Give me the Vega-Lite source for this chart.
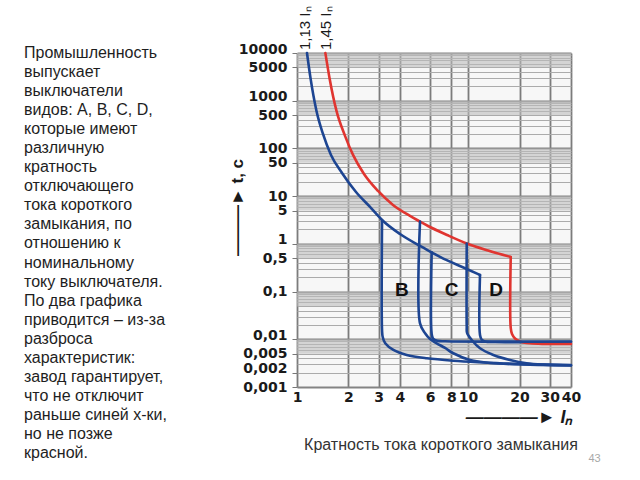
{
  "$schema": "https://vega.github.io/schema/vega-lite/v6.json",
  "background": "white",
  "padding": {"left": 24, "top": 6, "right": 0, "bottom": 0},
  "autosize": {"type": "pad"},
  "spacing": 93,
  "bounds": "flush",
  "config": {"view": {"stroke": null}},
  "title": {"text": "43", "orient": "bottom", "anchor": "end", "fontSize": 11, "fontWeight": "normal", "font": "Liberation Sans", "color": "#a8a8a8", "dx": 20, "offset": -8},
  "datasets": {
    "para": [
      {"line": 1, "text": "Промышленность"},
      {"line": 2, "text": "выпускает"},
      {"line": 3, "text": "выключатели"},
      {"line": 4, "text": "видов: A, B, C, D,"},
      {"line": 5, "text": "которые имеют"},
      {"line": 6, "text": "различную"},
      {"line": 7, "text": "кратность"},
      {"line": 8, "text": "отключающего"},
      {"line": 9, "text": "тока короткого"},
      {"line": 10, "text": "замыкания, по"},
      {"line": 11, "text": "отношению к"},
      {"line": 12, "text": "номинальному"},
      {"line": 13, "text": "току выключателя."},
      {"line": 14, "text": "По два графика"},
      {"line": 15, "text": "приводится – из-за"},
      {"line": 16, "text": "разброса"},
      {"line": 17, "text": "характеристик:"},
      {"line": 18, "text": "завод гарантирует,"},
      {"line": 19, "text": "что не отключит"},
      {"line": 20, "text": "раньше синей х-ки,"},
      {"line": 21, "text": "но не позже"},
      {"line": 22, "text": "красной."}
    ],
    "bands": [
      {"t": 10000, "t2": 5000},
      {"t": 1000, "t2": 500},
      {"t": 100, "t2": 50},
      {"t": 10, "t2": 5},
      {"t": 1, "t2": 0.5},
      {"t": 0.1, "t2": 0.05},
      {"t": 0.01, "t2": 0.005}
    ],
    "curves": [
      {"part": "thermal", "s": "lo", "bound": "lower", "k": 0, "x": 1.144, "t": 10000},
      {"part": "thermal", "s": "lo", "bound": "lower", "k": 1, "x": 1.199, "t": 3006},
      {"part": "thermal", "s": "lo", "bound": "lower", "k": 2, "x": 1.300, "t": 611},
      {"part": "thermal", "s": "lo", "bound": "lower", "k": 3, "x": 1.419, "t": 201},
      {"part": "thermal", "s": "lo", "bound": "lower", "k": 4, "x": 1.580, "t": 73.1},
      {"part": "thermal", "s": "lo", "bound": "lower", "k": 5, "x": 1.833, "t": 30.6},
      {"part": "thermal", "s": "lo", "bound": "lower", "k": 6, "x": 2.213, "t": 12.2},
      {"part": "thermal", "s": "lo", "bound": "lower", "k": 7, "x": 2.673, "t": 5.94},
      {"part": "thermal", "s": "lo", "bound": "lower", "k": 8, "x": 3.142, "t": 3.17},
      {"part": "thermal", "s": "lo", "bound": "lower", "k": 9, "x": 4.003, "t": 1.61},
      {"part": "thermal", "s": "lo", "bound": "lower", "k": 10, "x": 5.24, "t": 0.904},
      {"part": "thermal", "s": "lo", "bound": "lower", "k": 11, "x": 6.13, "t": 0.663},
      {"part": "thermal", "s": "lo", "bound": "lower", "k": 12, "x": 6.86, "t": 0.531},
      {"part": "thermal", "s": "lo", "bound": "lower", "k": 13, "x": 9.826, "t": 0.298},
      {"part": "thermal", "s": "lo", "bound": "lower", "k": 14, "x": 11.75, "t": 0.223},

      {"part": "thermal", "s": "hi", "bound": "upper", "k": 0, "x": 1.465, "t": 10000},
      {"part": "thermal", "s": "hi", "bound": "upper", "k": 1, "x": 1.549, "t": 3006},
      {"part": "thermal", "s": "hi", "bound": "upper", "k": 2, "x": 1.702, "t": 611},
      {"part": "thermal", "s": "hi", "bound": "upper", "k": 3, "x": 1.909, "t": 183},
      {"part": "thermal", "s": "hi", "bound": "upper", "k": 4, "x": 2.126, "t": 73.1},
      {"part": "thermal", "s": "hi", "bound": "upper", "k": 5, "x": 2.465, "t": 29.2},
      {"part": "thermal", "s": "hi", "bound": "upper", "k": 6, "x": 2.977, "t": 12.85},
      {"part": "thermal", "s": "hi", "bound": "upper", "k": 7, "x": 3.642, "t": 6.54},
      {"part": "thermal", "s": "hi", "bound": "upper", "k": 8, "x": 4.579, "t": 3.85},
      {"part": "thermal", "s": "hi", "bound": "upper", "k": 9, "x": 5.24, "t": 2.93},
      {"part": "thermal", "s": "hi", "bound": "upper", "k": 10, "x": 5.836, "t": 2.37},
      {"part": "thermal", "s": "hi", "bound": "upper", "k": 11, "x": 7.539, "t": 1.537},
      {"part": "thermal", "s": "hi", "bound": "upper", "k": 12, "x": 9.826, "t": 1.02},
      {"part": "thermal", "s": "hi", "bound": "upper", "k": 13, "x": 13.09, "t": 0.727},
      {"part": "thermal", "s": "hi", "bound": "upper", "k": 14, "x": 17.77, "t": 0.531},

      {"part": "trip", "s": "Dr", "bound": "lower", "k": 0, "x": 11.75, "t": 0.223},
      {"part": "trip", "s": "Dr", "bound": "lower", "k": 1, "x": 11.75, "t": 0.0123},
      {"part": "trip", "s": "Dr", "bound": "lower", "k": 2, "x": 12.0, "t": 0.0099},
      {"part": "trip", "s": "Dr", "bound": "lower", "k": 3, "x": 12.57, "t": 0.0090},
      {"part": "trip", "s": "Dr", "bound": "lower", "k": 4, "x": 14.4, "t": 0.00877},
      {"part": "trip", "s": "Dr", "bound": "lower", "k": 5, "x": 40, "t": 0.00877},

      {"part": "trip", "s": "Rr", "bound": "upper", "k": 0, "x": 17.77, "t": 0.531},
      {"part": "trip", "s": "Rr", "bound": "upper", "k": 1, "x": 17.77, "t": 0.0173},
      {"part": "trip", "s": "Rr", "bound": "upper", "k": 2, "x": 18.08, "t": 0.0129},
      {"part": "trip", "s": "Rr", "bound": "upper", "k": 3, "x": 18.83, "t": 0.0104},
      {"part": "trip", "s": "Rr", "bound": "upper", "k": 4, "x": 20.1, "t": 0.0090},
      {"part": "trip", "s": "Rr", "bound": "upper", "k": 5, "x": 23.05, "t": 0.00824},
      {"part": "trip", "s": "Rr", "bound": "upper", "k": 6, "x": 28.2, "t": 0.0080},
      {"part": "trip", "s": "Rr", "bound": "upper", "k": 7, "x": 40, "t": 0.0080},

      {"part": "trip", "s": "B", "bound": "lower", "k": 0, "x": 3.142, "t": 3.17},
      {"part": "trip", "s": "B", "bound": "lower", "k": 1, "x": 3.142, "t": 0.0157},
      {"part": "trip", "s": "B", "bound": "lower", "k": 2, "x": 3.17, "t": 0.0112},
      {"part": "trip", "s": "B", "bound": "lower", "k": 3, "x": 3.28, "t": 0.00824},
      {"part": "trip", "s": "B", "bound": "lower", "k": 4, "x": 3.66, "t": 0.00597},
      {"part": "trip", "s": "B", "bound": "lower", "k": 5, "x": 4.38, "t": 0.00469},
      {"part": "trip", "s": "B", "bound": "lower", "k": 6, "x": 5.74, "t": 0.0040},
      {"part": "trip", "s": "B", "bound": "lower", "k": 7, "x": 8.2, "t": 0.00356},
      {"part": "trip", "s": "B", "bound": "lower", "k": 8, "x": 11.75, "t": 0.0033},
      {"part": "trip", "s": "B", "bound": "lower", "k": 9, "x": 20.1, "t": 0.00303},
      {"part": "trip", "s": "B", "bound": "lower", "k": 10, "x": 40, "t": 0.00289},

      {"part": "trip", "s": "C1", "bound": "lower", "k": 0, "x": 5.24, "t": 2.93},
      {"part": "trip", "s": "C1", "bound": "lower", "k": 1, "x": 5.24, "t": 0.0216},
      {"part": "trip", "s": "C1", "bound": "lower", "k": 2, "x": 5.61, "t": 0.0134},
      {"part": "trip", "s": "C1", "bound": "lower", "k": 3, "x": 6.0, "t": 0.0101},
      {"part": "trip", "s": "C1", "bound": "lower", "k": 4, "x": 6.56, "t": 0.00824},
      {"part": "trip", "s": "C1", "bound": "lower", "k": 5, "x": 7.34, "t": 0.00658},
      {"part": "trip", "s": "C1", "bound": "lower", "k": 6, "x": 8.2, "t": 0.00509},
      {"part": "trip", "s": "C1", "bound": "lower", "k": 7, "x": 10.27, "t": 0.00368},
      {"part": "trip", "s": "C1", "bound": "lower", "k": 8, "x": 13.45, "t": 0.00318},
      {"part": "trip", "s": "C1", "bound": "lower", "k": 9, "x": 23.05, "t": 0.00294},
      {"part": "trip", "s": "C1", "bound": "lower", "k": 10, "x": 40, "t": 0.00285},

      {"part": "trip", "s": "C2", "bound": "lower", "k": 0, "x": 6.13, "t": 0.663},
      {"part": "trip", "s": "C2", "bound": "lower", "k": 1, "x": 6.13, "t": 0.0129},
      {"part": "trip", "s": "C2", "bound": "lower", "k": 2, "x": 6.24, "t": 0.0104},
      {"part": "trip", "s": "C2", "bound": "lower", "k": 3, "x": 6.59, "t": 0.00935},
      {"part": "trip", "s": "C2", "bound": "lower", "k": 4, "x": 7.34, "t": 0.00908},
      {"part": "trip", "s": "C2", "bound": "lower", "k": 5, "x": 40, "t": 0.0090},

      {"part": "trip", "s": "D1", "bound": "lower", "k": 0, "x": 9.826, "t": 1.02},
      {"part": "trip", "s": "D1", "bound": "lower", "k": 1, "x": 9.826, "t": 0.0184},
      {"part": "trip", "s": "D1", "bound": "lower", "k": 2, "x": 9.87, "t": 0.0136},
      {"part": "trip", "s": "D1", "bound": "lower", "k": 3, "x": 10.51, "t": 0.00967},
      {"part": "trip", "s": "D1", "bound": "lower", "k": 4, "x": 11.75, "t": 0.00648},
      {"part": "trip", "s": "D1", "bound": "lower", "k": 5, "x": 14.06, "t": 0.00469},
      {"part": "trip", "s": "D1", "bound": "lower", "k": 6, "x": 17.6, "t": 0.00368},
      {"part": "trip", "s": "D1", "bound": "lower", "k": 7, "x": 22.0, "t": 0.00314},
      {"part": "trip", "s": "D1", "bound": "lower", "k": 8, "x": 27.6, "t": 0.00294},
      {"part": "trip", "s": "D1", "bound": "lower", "k": 9, "x": 40, "t": 0.00283}
    ],
    "letters": [
      {"x": 4.1, "t": 0.11, "lab": "B"},
      {"x": 8.03, "t": 0.11, "lab": "C"},
      {"x": 14.6, "t": 0.11, "lab": "D"}
    ],
    "toplabels": [
      {"x": 1.12, "t": 10000, "lab": "1,13 Iₙ"},
      {"x": 1.48, "t": 10000, "lab": "1,45 Iₙ"}
    ]
  },
  "hconcat": [
    {
      "width": 180,
      "height": 400,
      "data": {"name": "para"},
      "mark": {"type": "text", "align": "left", "baseline": "middle", "fontSize": 16, "font": "Liberation Sans", "color": "#1e1e1e"},
      "encoding": {
        "x": {"datum": 0, "type": "quantitative", "scale": {"domain": [0, 1]}, "axis": null},
        "y": {"field": "line", "type": "quantitative", "scale": {"domain": [1, 22], "nice": false, "zero": false, "reverse": true}, "axis": null},
        "text": {"field": "text"}
      }
    },
    {
      "width": 274,
      "height": 334,
      "view": {"fill": "#f7f7f7", "stroke": null},
      "title": {"text": "Кратность тока короткого замыкания", "orient": "bottom", "anchor": "middle", "frame": "group", "fontSize": 16, "fontWeight": "normal", "font": "Liberation Sans", "color": "#333333", "dx": 7, "offset": 11},
      "layer": [
        {
          "data": {"name": "bands"},
          "mark": {"type": "rect", "fill": "#bdbdbd", "opacity": 0.6},
          "encoding": {
            "y": {"field": "t", "type": "quantitative"},
            "y2": {"field": "t2"}
          }
        },
        {
          "data": {"name": "curves"},
          "transform": [{"filter": "datum.part == 'thermal'"}],
          "mark": {"type": "line", "interpolate": "monotone", "strokeWidth": 2.6, "strokeCap": "round"},
          "encoding": {
            "x": {
              "field": "x", "type": "quantitative",
              "scale": {"type": "log", "domain": [1, 40], "nice": false},
              "axis": {
                "values": [1, 2, 3, 4, 6, 8, 10, 20, 30, 40],
                "format": "d",
                "labelFont": "DejaVu Sans", "labelFontWeight": "bold", "labelFontSize": 14, "labelColor": "#1a1a1a",
                "labelPadding": 3, "labelOverlap": false, "labelFlush": false,
                "ticks": false, "domain": false,
                "grid": true, "gridColor": "#7c7c7c", "gridWidth": 1.8,
                "title": "————►  Iₙ",
                "titleFont": "Liberation Sans", "titleFontStyle": "italic", "titleFontWeight": "bold", "titleFontSize": 18, "titleColor": "#1a1a1a",
                "titleX": 275, "titleY": 30, "titleAlign": "right", "titleBaseline": "middle", "titleAngle": 0
              }
            },
            "y": {
              "field": "t", "type": "quantitative",
              "scale": {"type": "log", "domain": [0.001, 10000], "nice": false},
              "axis": {
                "values": [0.001, 0.002, 0.003, 0.004, 0.005, 0.006, 0.007, 0.008, 0.009,
                           0.01, 0.02, 0.03, 0.04, 0.05, 0.06, 0.07, 0.08, 0.09,
                           0.1, 0.2, 0.3, 0.4, 0.5, 0.6, 0.7, 0.8, 0.9,
                           1, 2, 3, 4, 5, 6, 7, 8, 9,
                           10, 20, 30, 40, 50, 60, 70, 80, 90,
                           100, 200, 300, 400, 500, 600, 700, 800, 900,
                           1000, 2000, 3000, 4000, 5000, 6000, 7000, 8000, 9000, 10000],
                "labelExpr": "indexof([0.001,0.002,0.005,0.01,0.1,0.5,1,5,10,50,100,500,1000,5000,10000], datum.value) >= 0 ? replace(format(datum.value, '~g'), '.', ',') : ''",
                "labelFont": "DejaVu Sans", "labelFontWeight": "bold", "labelFontSize": 14, "labelColor": "#1a1a1a",
                "labelPadding": 5, "labelOverlap": false, "labelFlush": false,
                "labelOffset": {"condition": {"test": "datum.value == 10000 || datum.value == 1000 || datum.value == 0.01 || datum.value == 0.002 || datum.value == 1", "value": -4}, "value": 0},
                "ticks": true, "tickSize": 5,
                "tickColor": {"condition": {"test": "indexof([0.001,0.002,0.005,0.01,0.1,0.5,1,5,10,50,100,500,1000,5000,10000], datum.value) >= 0", "value": "#777777"}, "value": "transparent"},
                "domain": false,
                "grid": true,
                "gridColor": {"condition": {"test": "indexof([0.001,0.01,0.1,1,10,100,1000,10000], datum.value) >= 0", "value": "#848484"}, "value": "#ababab"},
                "gridWidth": {"condition": {"test": "indexof([0.001,0.01,0.1,1,10,100,1000,10000], datum.value) >= 0", "value": 1.8}, "value": 1},
                "title": "———►  t, c",
                "titleFont": "Liberation Sans", "titleFontWeight": "bold", "titleFontSize": 17, "titleColor": "#1a1a1a",
                "titleX": -60, "titleY": 154, "titleAngle": 270, "titleAlign": "center", "titleBaseline": "middle"
              }
            },
            "detail": {"field": "s"},
            "order": {"field": "k", "type": "quantitative"},
            "color": {"field": "bound", "type": "nominal", "scale": {"domain": ["lower", "upper"], "range": ["#1d4592", "#e03530"]}, "legend": null}
          }
        },
        {
          "data": {"name": "curves"},
          "transform": [{"filter": "datum.part == 'trip'"}],
          "mark": {"type": "line", "interpolate": "catmull-rom", "strokeWidth": 2.6, "strokeCap": "round"},
          "encoding": {
            "x": {"field": "x", "type": "quantitative"},
            "y": {"field": "t", "type": "quantitative"},
            "detail": {"field": "s"},
            "order": {"field": "k", "type": "quantitative"},
            "color": {"field": "bound", "type": "nominal", "legend": null}
          }
        },
        {
          "data": {"name": "letters"},
          "mark": {"type": "text", "font": "Liberation Sans", "fontWeight": "bold", "fontSize": 19, "color": "#111111", "baseline": "middle", "align": "center"},
          "encoding": {
            "x": {"field": "x", "type": "quantitative"},
            "y": {"field": "t", "type": "quantitative"},
            "text": {"field": "lab"}
          }
        },
        {
          "data": {"name": "toplabels"},
          "mark": {"type": "text", "font": "Liberation Sans", "fontSize": 15, "color": "#1a1a1a", "angle": 270, "align": "left", "baseline": "middle", "dx": 3},
          "encoding": {
            "x": {"field": "x", "type": "quantitative"},
            "y": {"field": "t", "type": "quantitative"},
            "text": {"field": "lab"}
          }
        }
      ]
    }
  ]
}
